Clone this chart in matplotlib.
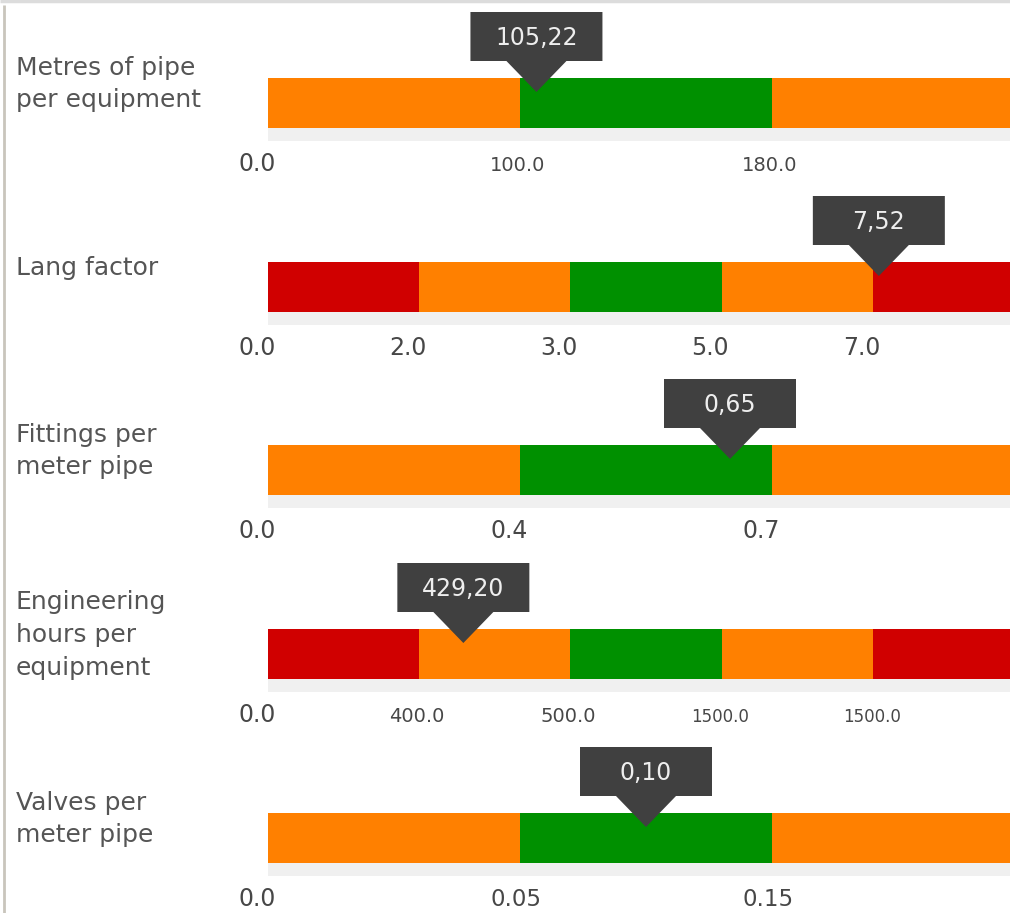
import numpy as np
import matplotlib
matplotlib.use("Agg")
import matplotlib.pyplot as plt
from matplotlib import transforms
from matplotlib.patches import Polygon

plt.rcParams['font.family'] = ['DejaVu Sans']

# ---------------- data ----------------
labels = ["Metres of pipe\nper equipment", "Lang factor", "Fittings per\nmeter pipe",
          "Engineering\nhours per\nequipment", "Valves per\nmeter pipe"]
thresholds = [
    [0.0, 100.0, 180.0, 300.0],
    [0.0, 2.0, 3.0, 5.0, 7.0, 20.0],
    [0.0, 0.4, 0.7, 1.0],
    [0.0, 400.0, 500.0, 1500.0, 1500.0, 3000.0],
    [0.0, 0.05, 0.15, 0.25],
]
tick_labels = [
    ["0.0", "100.0", "180.0"],
    ["0.0", "2.0", "3.0", "5.0", "7.0"],
    ["0.0", "0.4", "0.7"],
    ["0.0", "400.0", "500.0", "1500.0", "1500.0"],
    ["0.0", "0.05", "0.15"],
]
segment_colors = [
    ["orange", "green", "orange"],
    ["red", "orange", "green", "orange", "red"],
    ["orange", "green", "orange"],
    ["red", "orange", "green", "orange", "red"],
    ["orange", "green", "orange"],
]
values = [105.22, 7.52, 0.65, 429.20, 0.10]
value_text = ["105,22", "7,52", "0,65", "429,20", "0,10"]

# ---------------- style ----------------
palette = {"orange": "#FF8000", "green": "#009000", "red": "#D00000"}
tick_sizes = [
    [17, 14, 14],
    [17, 17, 17, 17, 17],
    [17, 17, 17],
    [17, 14, 14, 12, 12],
    [17, 16.5, 16.5],
]
W, H = 1010, 913
bar_tops = [78, 262, 445, 629, 813]
bar_left, bar_width, bar_h, strip_h = 268, 756, 50, 13

fig = plt.figure(figsize=(W / 100, H / 100), dpi=100)
fig.patch.set_facecolor("white")

overlay = fig.add_axes([0, 0, 1, 1], zorder=10)
overlay.set_xlim(0, W)
overlay.set_ylim(H, 0)
overlay.axis("off")
overlay.patch.set_visible(False)

# borders
overlay.plot([0, W], [1, 1], color="#dcdcdc", lw=2.5, solid_capstyle="butt")
overlay.plot([4, 4], [5, H], color="#c9c5bc", lw=2, solid_capstyle="butt")

for r in range(len(labels)):
    top = bar_tops[r]
    nseg = len(segment_colors[r])
    ax = fig.add_axes([bar_left / W, (H - top - bar_h - strip_h) / H,
                       bar_width / W, (bar_h + strip_h) / H], zorder=1)
    ax.set_xlim(0, nseg)
    ax.set_ylim(-strip_h / bar_h, 1)
    ax.axis("off")
    ax.axhspan(-strip_h / bar_h, 0, color="#f0f0f0", lw=0)
    for i, c in enumerate(segment_colors[r]):
        ax.barh(0.5, 1, left=i, height=1, color=palette[c], lw=0)

    # tick labels (left edge 30 px before each boundary, baseline 30 px below strip)
    toff = transforms.offset_copy(ax.transData, fig=fig, x=-30, y=-30, units="dots")
    for i, t in enumerate(tick_labels[r]):
        ax.text(i, -strip_h / bar_h, t, transform=toff, ha="left", va="baseline",
                fontsize=tick_sizes[r][i], color="#474747")

    # row label
    overlay.text(16, top + 6, labels[r], ha="left", va="center", fontsize=18,
                 color="#555555", linespacing=1.45)

    # marker
    pos = np.interp(values[r], thresholds[r], np.arange(len(thresholds[r])))
    x = ax.transData.transform((pos, 1))[0]
    verts = [(x - 66, top - 66), (x + 66, top - 66), (x + 66, top - 17), (x + 30, top - 17),
             (x, top + 14), (x - 30, top - 17), (x - 66, top - 17)]
    overlay.add_patch(Polygon(verts, closed=True, facecolor="#404040", edgecolor="none"))
    overlay.text(x, top - 41.5 + 8.5, value_text[r], ha="center", va="baseline", fontsize=17,
                 color="#eeeeee")

fig.savefig("out.png", dpi=100)
